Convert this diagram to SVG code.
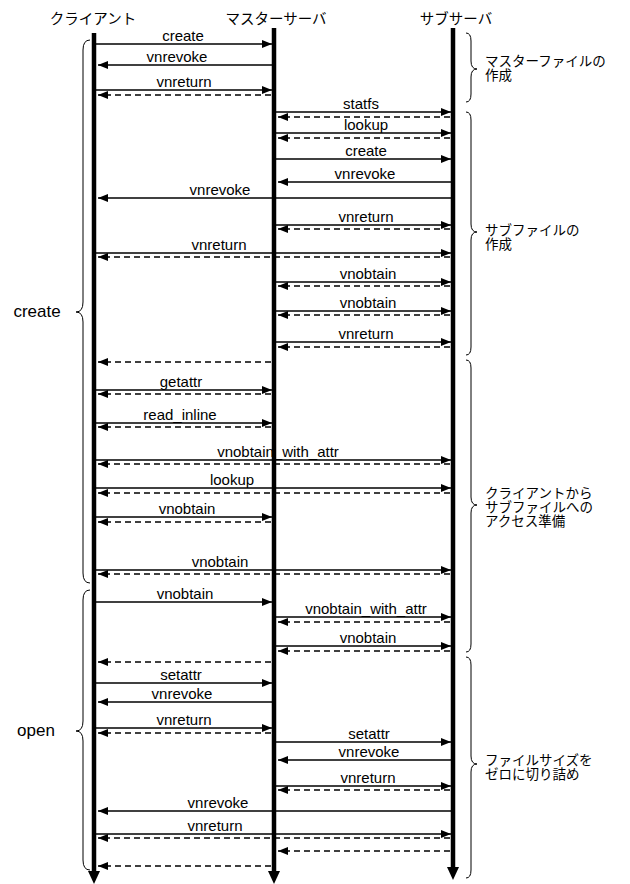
<svg xmlns="http://www.w3.org/2000/svg" width="630" height="884" viewBox="0 0 630 884">
<style>
.hdr{font-family:"Noto Sans CJK JP","Noto Sans",sans-serif;font-size:14.5px;text-anchor:middle;fill:#000}
.jp{font-family:"Noto Sans CJK JP","Noto Sans",sans-serif;font-size:13.5px;fill:#000}
.lbl{font-family:"Liberation Sans",Arial,sans-serif;font-size:15px;text-anchor:middle;fill:#000}
.big{font-family:"Liberation Sans",Arial,sans-serif;font-size:17px;text-anchor:middle;fill:#000}
.life{stroke:#000;stroke-width:4.5;fill:none}
.s{stroke:#000;stroke-width:1.5;fill:none;marker-end:url(#ah)}
.d{stroke:#000;stroke-width:1.5;fill:none;stroke-dasharray:6 4;marker-end:url(#ah)}
.brace{stroke:#000;stroke-width:1;fill:none}
</style>
<defs>
<marker id="ah" markerUnits="userSpaceOnUse" markerWidth="10" markerHeight="8" refX="10" refY="4" orient="auto">
<path d="M0,0 L10,4 L0,8 z" fill="#000"/>
</marker>
</defs>
<rect width="630" height="884" fill="#fff"/>
<g id="client">
<text class="hdr" x="93" y="24">クライアント</text>
<line class="life" x1="94" y1="33" x2="94" y2="872"/>
<polygon points="88,871 100,871 94,884" fill="#000"/>
</g>
<g id="master">
<text class="hdr" x="276" y="24">マスターサーバ</text>
<line class="life" x1="274" y1="28" x2="274" y2="872"/>
<polygon points="268,871 280,871 274,884" fill="#000"/>
</g>
<g id="sub">
<text class="hdr" x="456" y="24">サブサーバ</text>
<line class="life" x1="453" y1="28" x2="453" y2="868"/>
<polygon points="447,867 459,867 453,880" fill="#000"/>
</g>
<g id="connectors">
<line class="s" x1="96" y1="44" x2="272" y2="44"/><text class="lbl" x="183" y="41">create</text>
<line class="s" x1="272" y1="65" x2="98" y2="65"/><text class="lbl" x="177" y="62">vnrevoke</text>
<line class="s" x1="96" y1="90" x2="272" y2="90"/><text class="lbl" x="184" y="87">vnreturn</text>
<line class="d" x1="271" y1="95" x2="98" y2="95"/>
<line class="s" x1="276" y1="112" x2="451" y2="112"/><text class="lbl" x="361" y="109">statfs</text>
<line class="d" x1="450" y1="117" x2="278" y2="117"/>
<line class="s" x1="276" y1="133" x2="451" y2="133"/><text class="lbl" x="366" y="130">lookup</text>
<line class="d" x1="450" y1="138" x2="278" y2="138"/>
<line class="s" x1="276" y1="159" x2="451" y2="159"/><text class="lbl" x="366" y="156">create</text>
<line class="s" x1="451" y1="182" x2="278" y2="182"/><text class="lbl" x="365" y="179">vnrevoke</text>
<line class="s" x1="451" y1="198" x2="98" y2="198"/><text class="lbl" x="220" y="195">vnrevoke</text>
<line class="s" x1="276" y1="225" x2="451" y2="225"/><text class="lbl" x="366" y="222">vnreturn</text>
<line class="d" x1="450" y1="229" x2="278" y2="229"/>
<line class="s" x1="96" y1="253" x2="451" y2="253"/><text class="lbl" x="219" y="250">vnreturn</text>
<line class="d" x1="450" y1="257" x2="98" y2="257"/>
<line class="s" x1="276" y1="282" x2="451" y2="282"/><text class="lbl" x="368" y="279">vnobtain</text>
<line class="d" x1="450" y1="286" x2="278" y2="286"/>
<line class="s" x1="276" y1="311" x2="451" y2="311"/><text class="lbl" x="368" y="308">vnobtain</text>
<line class="d" x1="450" y1="315" x2="278" y2="315"/>
<line class="s" x1="276" y1="342" x2="451" y2="342"/><text class="lbl" x="366" y="339">vnreturn</text>
<line class="d" x1="450" y1="347" x2="278" y2="347"/>
<line class="d" x1="271" y1="362" x2="98" y2="362"/>
<line class="s" x1="96" y1="390" x2="272" y2="390"/><text class="lbl" x="181" y="387">getattr</text>
<line class="d" x1="271" y1="394" x2="98" y2="394"/>
<line class="s" x1="96" y1="423" x2="272" y2="423"/><text class="lbl" x="180" y="420">read_inline</text>
<line class="d" x1="271" y1="427" x2="98" y2="427"/>
<line class="s" x1="96" y1="460" x2="451" y2="460"/><text class="lbl" x="278" y="457">vnobtain_with_attr</text>
<line class="d" x1="450" y1="464" x2="98" y2="464"/>
<line class="s" x1="96" y1="488" x2="451" y2="488"/><text class="lbl" x="232" y="485">lookup</text>
<line class="d" x1="450" y1="493" x2="98" y2="493"/>
<line class="s" x1="96" y1="517" x2="272" y2="517"/><text class="lbl" x="187" y="514">vnobtain</text>
<line class="d" x1="271" y1="522" x2="98" y2="522"/>
<line class="s" x1="96" y1="570" x2="451" y2="570"/><text class="lbl" x="220" y="567">vnobtain</text>
<line class="d" x1="450" y1="574" x2="98" y2="574"/>
<line class="s" x1="96" y1="602" x2="272" y2="602"/><text class="lbl" x="185" y="599">vnobtain</text>
<line class="s" x1="276" y1="617" x2="451" y2="617"/><text class="lbl" x="366" y="614">vnobtain_with_attr</text>
<line class="d" x1="450" y1="622" x2="278" y2="622"/>
<line class="s" x1="276" y1="646" x2="451" y2="646"/><text class="lbl" x="368" y="643">vnobtain</text>
<line class="d" x1="450" y1="651" x2="278" y2="651"/>
<line class="d" x1="271" y1="662" x2="98" y2="662"/>
<line class="s" x1="96" y1="683" x2="272" y2="683"/><text class="lbl" x="181" y="680">setattr</text>
<line class="s" x1="272" y1="702" x2="98" y2="702"/><text class="lbl" x="182" y="699">vnrevoke</text>
<line class="s" x1="96" y1="728" x2="272" y2="728"/><text class="lbl" x="184" y="725">vnreturn</text>
<line class="d" x1="271" y1="733" x2="98" y2="733"/>
<line class="s" x1="276" y1="742" x2="451" y2="742"/><text class="lbl" x="369" y="739">setattr</text>
<line class="s" x1="451" y1="760" x2="278" y2="760"/><text class="lbl" x="369" y="757">vnrevoke</text>
<line class="s" x1="276" y1="786" x2="451" y2="786"/><text class="lbl" x="368" y="783">vnreturn</text>
<line class="d" x1="450" y1="790" x2="278" y2="790"/>
<line class="s" x1="451" y1="811" x2="98" y2="811"/><text class="lbl" x="218" y="808">vnrevoke</text>
<line class="s" x1="96" y1="834" x2="451" y2="834"/><text class="lbl" x="215" y="831">vnreturn</text>
<line class="d" x1="450" y1="838" x2="98" y2="838"/>
<line class="d" x1="450" y1="851" x2="278" y2="851"/>
<line class="d" x1="271" y1="866" x2="98" y2="866"/>
</g>
<g id="brace-create">
<path class="brace" d="M90,40 Q83,40 83,50 L83,302 Q83,312 76,312 Q83,312 83,322 L83,573 Q83,583 90,583"/>
<text class="big" x="37" y="317">create</text>
</g>
<g id="brace-open">
<path class="brace" d="M90,590 Q83,590 83,600 L83,721 Q83,731 76,731 Q83,731 83,741 L83,860 Q83,870 90,870"/>
<text class="big" x="36" y="736">open</text>
</g>
<g id="brace-master-file">
<path class="brace" d="M466,33 Q471,33 471,41 L471,61 Q471,69 477,69 Q471,69 471,77 L471,94 Q471,102 466,102"/>
<text class="jp" x="485" y="66">マスターファイルの</text>
<text class="jp" x="485" y="80">作成</text>
</g>
<g id="brace-sub-file">
<path class="brace" d="M466,112 Q471,112 471,120 L471,224 Q471,232 477,232 Q471,232 471,240 L471,347 Q471,355 466,355"/>
<text class="jp" x="485" y="235">サブファイルの</text>
<text class="jp" x="485" y="249">作成</text>
</g>
<g id="brace-access">
<path class="brace" d="M466,360 Q471,360 471,368 L471,497 Q471,505 477,505 Q471,505 471,513 L471,644 Q471,652 466,652"/>
<text class="jp" x="485" y="498">クライアントから</text>
<text class="jp" x="485" y="512">サブファイルへの</text>
<text class="jp" x="485" y="526">アクセス準備</text>
</g>
<g id="brace-truncate">
<path class="brace" d="M466,657 Q471,657 471,665 L471,756 Q471,764 477,764 Q471,764 471,772 L471,870 Q471,878 466,878"/>
<text class="jp" x="485" y="765">ファイルサイズを</text>
<text class="jp" x="485" y="779">ゼロに切り詰め</text>
</g>
</svg>
